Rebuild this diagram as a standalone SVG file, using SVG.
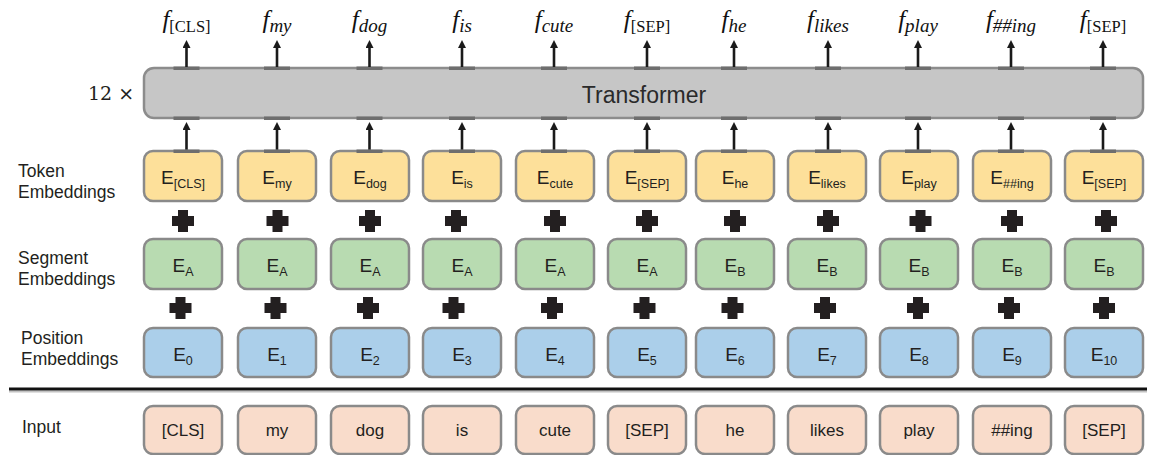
<svg xmlns="http://www.w3.org/2000/svg" xmlns:xlink="http://www.w3.org/1999/xlink" width="1159" height="455" viewBox="0 0 1159 455">
<style>
.box{stroke:#8a8a8a;stroke-width:2.5}
.tok{fill:#fde09a}
.seg{fill:#b8dbb1}
.pos{fill:#abcfea}
.inp{fill:#f9dccb}
.et{font-family:"Liberation Sans",Arial,sans-serif;font-size:19px;fill:#231f20;text-anchor:middle}
.sub{font-size:12.5px}
.it{font-family:"Liberation Sans",Arial,sans-serif;font-size:17px;fill:#231f20;text-anchor:middle}
.lbl{font-family:"Liberation Sans",Arial,sans-serif;font-size:17.5px;fill:#231f20}
.fl{font-family:"Liberation Serif","Times New Roman",serif;font-size:25px;fill:#111;text-anchor:middle;font-style:italic}
.fs{font-size:19px}
.fu{font-size:16.5px;font-style:normal}
.tab{fill:#6e6e6e}
.arr{stroke:#1a1a1a;stroke-width:2.6;fill:none;marker-end:url(#ah)}
.plus{fill:#231f20}
</style>
<defs>
<marker id="ah" viewBox="0 0 10 10" refX="0" refY="5" markerWidth="8" markerHeight="8" markerUnits="userSpaceOnUse" orient="auto">
<path d="M0,0 L10,5 L0,10 z" fill="#1a1a1a"/>
</marker>
<path id="plus" d="M-5,-11 H5 V-5 H11 V5 H5 V11 H-5 V5 H-11 V-5 H-5 Z"/>
</defs>
<rect width="1159" height="455" fill="#ffffff"/>

<g id="row-labels">
<text class="lbl" x="18" y="177">Token</text>
<text class="lbl" x="18" y="198">Embeddings</text>
<text class="lbl" x="18" y="264">Segment</text>
<text class="lbl" x="18" y="285">Embeddings</text>
<text class="lbl" x="21" y="344">Position</text>
<text class="lbl" x="21" y="365">Embeddings</text>
<text class="lbl" x="22" y="433">Input</text>
<text x="88" y="100" style="font-family:'DejaVu Serif','Liberation Serif',serif;font-size:19px;fill:#231f20">12 ×</text>
</g>

<g id="transformer">
<rect x="144" y="68" width="999" height="50" rx="10" fill="#c6c6c6" stroke="#8c8c8c" stroke-width="2.5"/>
<text x="644" y="102.5" style="font-family:'Liberation Sans',Arial,sans-serif;font-size:23px;fill:#2a2a2a;text-anchor:middle">Transformer</text>
<g class="tab">
<rect x="173.5" y="66.5" width="26" height="3.5"/><rect x="264" y="66.5" width="26" height="3.5"/><rect x="356.5" y="66.5" width="26" height="3.5"/><rect x="449" y="66.5" width="26" height="3.5"/><rect x="541" y="66.5" width="26" height="3.5"/><rect x="634" y="66.5" width="26" height="3.5"/><rect x="721" y="66.5" width="26" height="3.5"/><rect x="815" y="66.5" width="26" height="3.5"/><rect x="905" y="66.5" width="26" height="3.5"/><rect x="998" y="66.5" width="26" height="3.5"/><rect x="1090" y="66.5" width="26" height="3.5"/>
<rect x="173.5" y="116.5" width="26" height="3.5"/><rect x="264" y="116.5" width="26" height="3.5"/><rect x="356.5" y="116.5" width="26" height="3.5"/><rect x="449" y="116.5" width="26" height="3.5"/><rect x="541" y="116.5" width="26" height="3.5"/><rect x="634" y="116.5" width="26" height="3.5"/><rect x="721" y="116.5" width="26" height="3.5"/><rect x="815" y="116.5" width="26" height="3.5"/><rect x="905" y="116.5" width="26" height="3.5"/><rect x="998" y="116.5" width="26" height="3.5"/><rect x="1090" y="116.5" width="26" height="3.5"/>
</g>
</g>

<g id="outputs">
<text class="fl" x="186.5" y="28">f<tspan class="fu" dy="4">[CLS]</tspan></text>
<text class="fl" x="277" y="28">f<tspan class="fs" dy="4">my</tspan></text>
<text class="fl" x="369.5" y="28">f<tspan class="fs" dy="4">dog</tspan></text>
<text class="fl" x="462" y="28">f<tspan class="fs" dy="4">is</tspan></text>
<text class="fl" x="554" y="28">f<tspan class="fs" dy="4">cute</tspan></text>
<text class="fl" x="647" y="28">f<tspan class="fu" dy="4">[SEP]</tspan></text>
<text class="fl" x="734" y="28">f<tspan class="fs" dy="4">he</tspan></text>
<text class="fl" x="828" y="28">f<tspan class="fs" dy="4">likes</tspan></text>
<text class="fl" x="918" y="28">f<tspan class="fs" dy="4">play</tspan></text>
<text class="fl" x="1011" y="28">f<tspan class="fs" dy="4">##ing</tspan></text>
<text class="fl" x="1103" y="28">f<tspan class="fu" dy="4">[SEP]</tspan></text>
</g>

<g id="connectors">
<line class="arr" x1="186.5" y1="67" x2="186.5" y2="48"/>
<line class="arr" x1="277" y1="67" x2="277" y2="48"/>
<line class="arr" x1="369.5" y1="67" x2="369.5" y2="48"/>
<line class="arr" x1="462" y1="67" x2="462" y2="48"/>
<line class="arr" x1="554" y1="67" x2="554" y2="48"/>
<line class="arr" x1="647" y1="67" x2="647" y2="48"/>
<line class="arr" x1="734" y1="67" x2="734" y2="48"/>
<line class="arr" x1="828" y1="67" x2="828" y2="48"/>
<line class="arr" x1="918" y1="67" x2="918" y2="48"/>
<line class="arr" x1="1011" y1="67" x2="1011" y2="48"/>
<line class="arr" x1="1103" y1="67" x2="1103" y2="48"/>
<line class="arr" x1="186.5" y1="150" x2="186.5" y2="130"/>
<line class="arr" x1="277" y1="150" x2="277" y2="130"/>
<line class="arr" x1="369.5" y1="150" x2="369.5" y2="130"/>
<line class="arr" x1="462" y1="150" x2="462" y2="130"/>
<line class="arr" x1="554" y1="150" x2="554" y2="130"/>
<line class="arr" x1="647" y1="150" x2="647" y2="130"/>
<line class="arr" x1="734" y1="150" x2="734" y2="130"/>
<line class="arr" x1="828" y1="150" x2="828" y2="130"/>
<line class="arr" x1="918" y1="150" x2="918" y2="130"/>
<line class="arr" x1="1011" y1="150" x2="1011" y2="130"/>
<line class="arr" x1="1103" y1="150" x2="1103" y2="130"/>
</g>

<g id="token-embeddings">
<g id="tok-0"><rect class="box tok" x="144" y="151" width="78" height="50" rx="9"/><rect class="tab" x="173.5" y="149.5" width="26" height="3.5"/><text class="et" x="183" y="184">E<tspan class="sub" dy="4">[CLS]</tspan></text></g>
<g id="tok-1"><rect class="box tok" x="238" y="151" width="78" height="50" rx="9"/><rect class="tab" x="264" y="149.5" width="26" height="3.5"/><text class="et" x="277" y="184">E<tspan class="sub" dy="4">my</tspan></text></g>
<g id="tok-2"><rect class="box tok" x="331" y="151" width="78" height="50" rx="9"/><rect class="tab" x="356.5" y="149.5" width="26" height="3.5"/><text class="et" x="370" y="184">E<tspan class="sub" dy="4">dog</tspan></text></g>
<g id="tok-3"><rect class="box tok" x="423" y="151" width="78" height="50" rx="9"/><rect class="tab" x="449" y="149.5" width="26" height="3.5"/><text class="et" x="462" y="184">E<tspan class="sub" dy="4">is</tspan></text></g>
<g id="tok-4"><rect class="box tok" x="516" y="151" width="78" height="50" rx="9"/><rect class="tab" x="541" y="149.5" width="26" height="3.5"/><text class="et" x="555" y="184">E<tspan class="sub" dy="4">cute</tspan></text></g>
<g id="tok-5"><rect class="box tok" x="608" y="151" width="78" height="50" rx="9"/><rect class="tab" x="634" y="149.5" width="26" height="3.5"/><text class="et" x="647" y="184">E<tspan class="sub" dy="4">[SEP]</tspan></text></g>
<g id="tok-6"><rect class="box tok" x="696" y="151" width="78" height="50" rx="9"/><rect class="tab" x="721" y="149.5" width="26" height="3.5"/><text class="et" x="735" y="184">E<tspan class="sub" dy="4">he</tspan></text></g>
<g id="tok-7"><rect class="box tok" x="788" y="151" width="78" height="50" rx="9"/><rect class="tab" x="815" y="149.5" width="26" height="3.5"/><text class="et" x="827" y="184">E<tspan class="sub" dy="4">likes</tspan></text></g>
<g id="tok-8"><rect class="box tok" x="880" y="151" width="78" height="50" rx="9"/><rect class="tab" x="905" y="149.5" width="26" height="3.5"/><text class="et" x="919" y="184">E<tspan class="sub" dy="4">play</tspan></text></g>
<g id="tok-9"><rect class="box tok" x="973" y="151" width="78" height="50" rx="9"/><rect class="tab" x="998" y="149.5" width="26" height="3.5"/><text class="et" x="1012" y="184">E<tspan class="sub" dy="4">##ing</tspan></text></g>
<g id="tok-10"><rect class="box tok" x="1065" y="151" width="78" height="50" rx="9"/><rect class="tab" x="1090" y="149.5" width="26" height="3.5"/><text class="et" x="1104" y="184">E<tspan class="sub" dy="4">[SEP]</tspan></text></g>
</g>

<g id="plus-row-1" class="plus">
<use xlink:href="#plus" transform="translate(183,221)"/><use xlink:href="#plus" transform="translate(277.5,221)"/><use xlink:href="#plus" transform="translate(370,221)"/><use xlink:href="#plus" transform="translate(456,221)"/><use xlink:href="#plus" transform="translate(555,221)"/><use xlink:href="#plus" transform="translate(647,221)"/><use xlink:href="#plus" transform="translate(735,221)"/><use xlink:href="#plus" transform="translate(828,221)"/><use xlink:href="#plus" transform="translate(920.5,221)"/><use xlink:href="#plus" transform="translate(1012,221)"/><use xlink:href="#plus" transform="translate(1106,221)"/>
</g>

<g id="segment-embeddings">
<g id="seg-0"><rect class="box seg" x="144" y="239" width="78" height="50" rx="9"/><text class="et" x="183" y="272">E<tspan class="sub" dy="3.5">A</tspan></text></g>
<g id="seg-1"><rect class="box seg" x="238" y="239" width="78" height="50" rx="9"/><text class="et" x="277" y="272">E<tspan class="sub" dy="3.5">A</tspan></text></g>
<g id="seg-2"><rect class="box seg" x="331" y="239" width="78" height="50" rx="9"/><text class="et" x="370" y="272">E<tspan class="sub" dy="3.5">A</tspan></text></g>
<g id="seg-3"><rect class="box seg" x="423" y="239" width="78" height="50" rx="9"/><text class="et" x="462" y="272">E<tspan class="sub" dy="3.5">A</tspan></text></g>
<g id="seg-4"><rect class="box seg" x="516" y="239" width="78" height="50" rx="9"/><text class="et" x="555" y="272">E<tspan class="sub" dy="3.5">A</tspan></text></g>
<g id="seg-5"><rect class="box seg" x="608" y="239" width="78" height="50" rx="9"/><text class="et" x="647" y="272">E<tspan class="sub" dy="3.5">A</tspan></text></g>
<g id="seg-6"><rect class="box seg" x="696" y="239" width="78" height="50" rx="9"/><text class="et" x="735" y="272">E<tspan class="sub" dy="3.5">B</tspan></text></g>
<g id="seg-7"><rect class="box seg" x="788" y="239" width="78" height="50" rx="9"/><text class="et" x="827" y="272">E<tspan class="sub" dy="3.5">B</tspan></text></g>
<g id="seg-8"><rect class="box seg" x="880" y="239" width="78" height="50" rx="9"/><text class="et" x="919" y="272">E<tspan class="sub" dy="3.5">B</tspan></text></g>
<g id="seg-9"><rect class="box seg" x="973" y="239" width="78" height="50" rx="9"/><text class="et" x="1012" y="272">E<tspan class="sub" dy="3.5">B</tspan></text></g>
<g id="seg-10"><rect class="box seg" x="1065" y="239" width="78" height="50" rx="9"/><text class="et" x="1104" y="272">E<tspan class="sub" dy="3.5">B</tspan></text></g>
</g>

<g id="plus-row-2" class="plus">
<use xlink:href="#plus" transform="translate(180.5,308)"/><use xlink:href="#plus" transform="translate(275.5,308)"/><use xlink:href="#plus" transform="translate(368,308)"/><use xlink:href="#plus" transform="translate(453.5,308)"/><use xlink:href="#plus" transform="translate(552,308)"/><use xlink:href="#plus" transform="translate(644.5,308)"/><use xlink:href="#plus" transform="translate(732.5,308)"/><use xlink:href="#plus" transform="translate(825,308)"/><use xlink:href="#plus" transform="translate(918,308)"/><use xlink:href="#plus" transform="translate(1009,308)"/><use xlink:href="#plus" transform="translate(1104,308)"/>
</g>

<g id="position-embeddings">
<g id="pos-0"><rect class="box pos" x="144" y="328" width="78" height="49" rx="9"/><text class="et" x="183" y="361">E<tspan class="sub" dy="3.5">0</tspan></text></g>
<g id="pos-1"><rect class="box pos" x="238" y="328" width="78" height="49" rx="9"/><text class="et" x="277" y="361">E<tspan class="sub" dy="3.5">1</tspan></text></g>
<g id="pos-2"><rect class="box pos" x="331" y="328" width="78" height="49" rx="9"/><text class="et" x="370" y="361">E<tspan class="sub" dy="3.5">2</tspan></text></g>
<g id="pos-3"><rect class="box pos" x="423" y="328" width="78" height="49" rx="9"/><text class="et" x="462" y="361">E<tspan class="sub" dy="3.5">3</tspan></text></g>
<g id="pos-4"><rect class="box pos" x="516" y="328" width="78" height="49" rx="9"/><text class="et" x="555" y="361">E<tspan class="sub" dy="3.5">4</tspan></text></g>
<g id="pos-5"><rect class="box pos" x="608" y="328" width="78" height="49" rx="9"/><text class="et" x="647" y="361">E<tspan class="sub" dy="3.5">5</tspan></text></g>
<g id="pos-6"><rect class="box pos" x="696" y="328" width="78" height="49" rx="9"/><text class="et" x="735" y="361">E<tspan class="sub" dy="3.5">6</tspan></text></g>
<g id="pos-7"><rect class="box pos" x="788" y="328" width="78" height="49" rx="9"/><text class="et" x="827" y="361">E<tspan class="sub" dy="3.5">7</tspan></text></g>
<g id="pos-8"><rect class="box pos" x="880" y="328" width="78" height="49" rx="9"/><text class="et" x="919" y="361">E<tspan class="sub" dy="3.5">8</tspan></text></g>
<g id="pos-9"><rect class="box pos" x="973" y="328" width="78" height="49" rx="9"/><text class="et" x="1012" y="361">E<tspan class="sub" dy="3.5">9</tspan></text></g>
<g id="pos-10"><rect class="box pos" x="1065" y="328" width="78" height="49" rx="9"/><text class="et" x="1104" y="361">E<tspan class="sub" dy="3.5">10</tspan></text></g>
</g>

<g id="divider">
<line x1="9" y1="391.5" x2="1147" y2="391.5" stroke="#9a9a9a" stroke-width="2" opacity="0.6"/>
<line x1="9" y1="389" x2="1147" y2="389" stroke="#111" stroke-width="3"/>
</g>

<g id="inputs">
<g id="in-0"><rect class="box inp" x="144" y="406" width="78" height="48" rx="9"/><text class="it" x="183" y="436">[CLS]</text></g>
<g id="in-1"><rect class="box inp" x="238" y="406" width="78" height="48" rx="9"/><text class="it" x="277" y="436">my</text></g>
<g id="in-2"><rect class="box inp" x="331" y="406" width="78" height="48" rx="9"/><text class="it" x="370" y="436">dog</text></g>
<g id="in-3"><rect class="box inp" x="423" y="406" width="78" height="48" rx="9"/><text class="it" x="462" y="436">is</text></g>
<g id="in-4"><rect class="box inp" x="516" y="406" width="78" height="48" rx="9"/><text class="it" x="555" y="436">cute</text></g>
<g id="in-5"><rect class="box inp" x="608" y="406" width="78" height="48" rx="9"/><text class="it" x="647" y="436">[SEP]</text></g>
<g id="in-6"><rect class="box inp" x="696" y="406" width="78" height="48" rx="9"/><text class="it" x="735" y="436">he</text></g>
<g id="in-7"><rect class="box inp" x="788" y="406" width="78" height="48" rx="9"/><text class="it" x="827" y="436">likes</text></g>
<g id="in-8"><rect class="box inp" x="880" y="406" width="78" height="48" rx="9"/><text class="it" x="919" y="436">play</text></g>
<g id="in-9"><rect class="box inp" x="973" y="406" width="78" height="48" rx="9"/><text class="it" x="1012" y="436">##ing</text></g>
<g id="in-10"><rect class="box inp" x="1065" y="406" width="78" height="48" rx="9"/><text class="it" x="1104" y="436">[SEP]</text></g>
</g>
</svg>
